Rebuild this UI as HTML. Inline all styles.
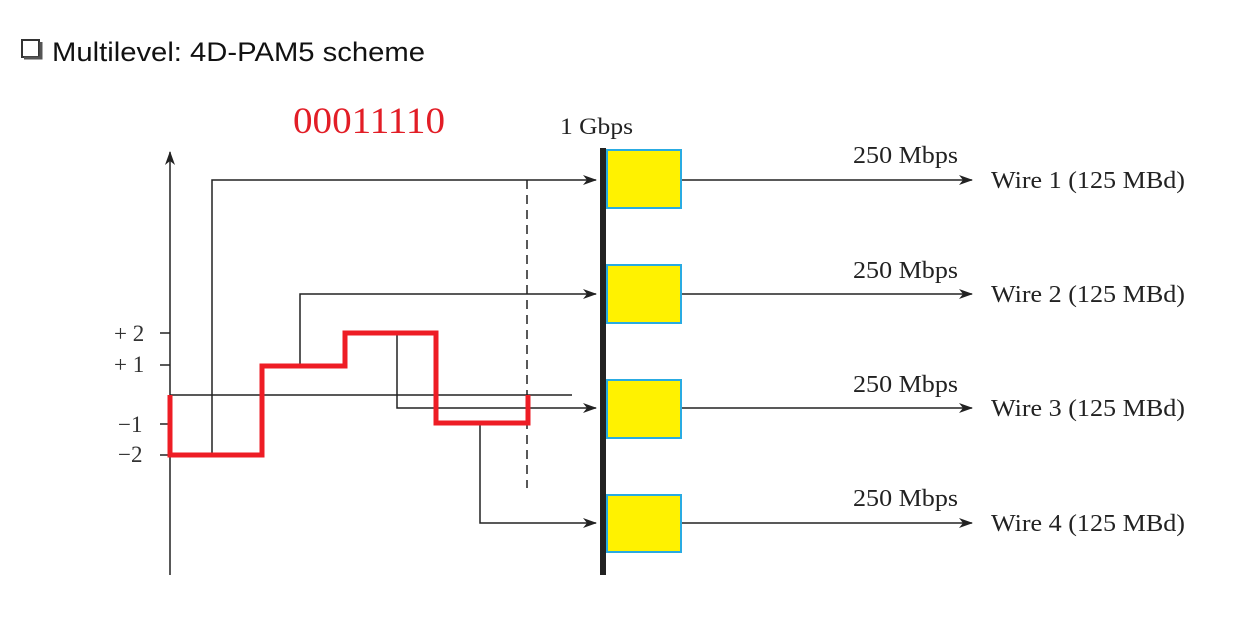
<!DOCTYPE html>
<html><head><style>
body{margin:0;background:#fff;width:1252px;height:612px;overflow:hidden}
</style></head><body>
<svg width="1252" height="612" viewBox="0 0 1252 612" xmlns="http://www.w3.org/2000/svg">
<defs><marker id="a" markerWidth="14" markerHeight="10" refX="13" refY="5" orient="auto" markerUnits="userSpaceOnUse"><path d="M0,0 L14,5 L0,10 L4,5 Z" fill="#222"/></marker></defs>
<rect x="22" y="40" width="17" height="17" fill="#fff" stroke="#333" stroke-width="2"/>
<path d="M24,58 H41 V42" stroke="#555" stroke-width="3" fill="none"/>
<text x="52" y="61" font-family="'Liberation Sans',sans-serif" font-size="27" fill="#111" textLength="373" lengthAdjust="spacingAndGlyphs">Multilevel: 4D-PAM5 scheme</text>
<text x="293" y="133" font-family="'Liberation Serif',serif" font-size="37" fill="#e21d26" textLength="152" lengthAdjust="spacingAndGlyphs">00011110</text>
<text x="560" y="134" font-family="'Liberation Serif',serif" font-size="23" fill="#222" textLength="73" lengthAdjust="spacingAndGlyphs">1 Gbps</text>
<g stroke="#222" stroke-width="1.5" fill="none">
<line x1="170" y1="575" x2="170" y2="152" marker-end="url(#a)"/>
<line x1="170" y1="395" x2="572" y2="395"/>
<line x1="160" y1="333" x2="170" y2="333"/><line x1="160" y1="365" x2="170" y2="365"/>
<line x1="160" y1="424" x2="170" y2="424"/><line x1="160" y1="455" x2="170" y2="455"/>
<path d="M212,455 V180 H596" marker-end="url(#a)"/>
<path d="M300,366 V294 H596" marker-end="url(#a)"/>
<path d="M397,333 V408 H596" marker-end="url(#a)"/>
<path d="M480,423 V523 H596" marker-end="url(#a)"/>
<line x1="527" y1="180" x2="527" y2="488" stroke-dasharray="9,6"/>
<line x1="681" y1="180" x2="972" y2="180" marker-end="url(#a)"/>
<line x1="681" y1="294" x2="972" y2="294" marker-end="url(#a)"/>
<line x1="681" y1="408" x2="972" y2="408" marker-end="url(#a)"/>
<line x1="681" y1="523" x2="972" y2="523" marker-end="url(#a)"/>
</g>
<path d="M170,395 V455 H262 V366 H345 V333 H436 V423 H528 V395" stroke="#ee1d25" stroke-width="5" fill="none"/>
<g font-family="'Liberation Serif',serif" font-size="23" fill="#333">
<text x="114" y="341">+ 2</text><text x="114" y="372">+ 1</text>
<text x="118" y="432">−1</text><text x="118" y="462">−2</text>
</g>
<rect x="600" y="148" width="6" height="427" fill="#222"/>
<g fill="#fff200" stroke="#29abe2" stroke-width="2">
<rect x="607" y="150" width="74" height="58"/><rect x="607" y="265" width="74" height="58"/>
<rect x="607" y="380" width="74" height="58"/><rect x="607" y="495" width="74" height="57"/>
</g>
<g font-family="'Liberation Serif',serif" font-size="24" fill="#222" lengthAdjust="spacingAndGlyphs">
<text x="853" y="163" textLength="105" lengthAdjust="spacingAndGlyphs">250 Mbps</text><text x="991" y="188" textLength="194" lengthAdjust="spacingAndGlyphs">Wire 1 (125 MBd)</text>
<text x="853" y="278" textLength="105" lengthAdjust="spacingAndGlyphs">250 Mbps</text><text x="991" y="302" textLength="194" lengthAdjust="spacingAndGlyphs">Wire 2 (125 MBd)</text>
<text x="853" y="392" textLength="105" lengthAdjust="spacingAndGlyphs">250 Mbps</text><text x="991" y="416" textLength="194" lengthAdjust="spacingAndGlyphs">Wire 3 (125 MBd)</text>
<text x="853" y="506" textLength="105" lengthAdjust="spacingAndGlyphs">250 Mbps</text><text x="991" y="531" textLength="194" lengthAdjust="spacingAndGlyphs">Wire 4 (125 MBd)</text>
</g>
</svg>
</body></html>
